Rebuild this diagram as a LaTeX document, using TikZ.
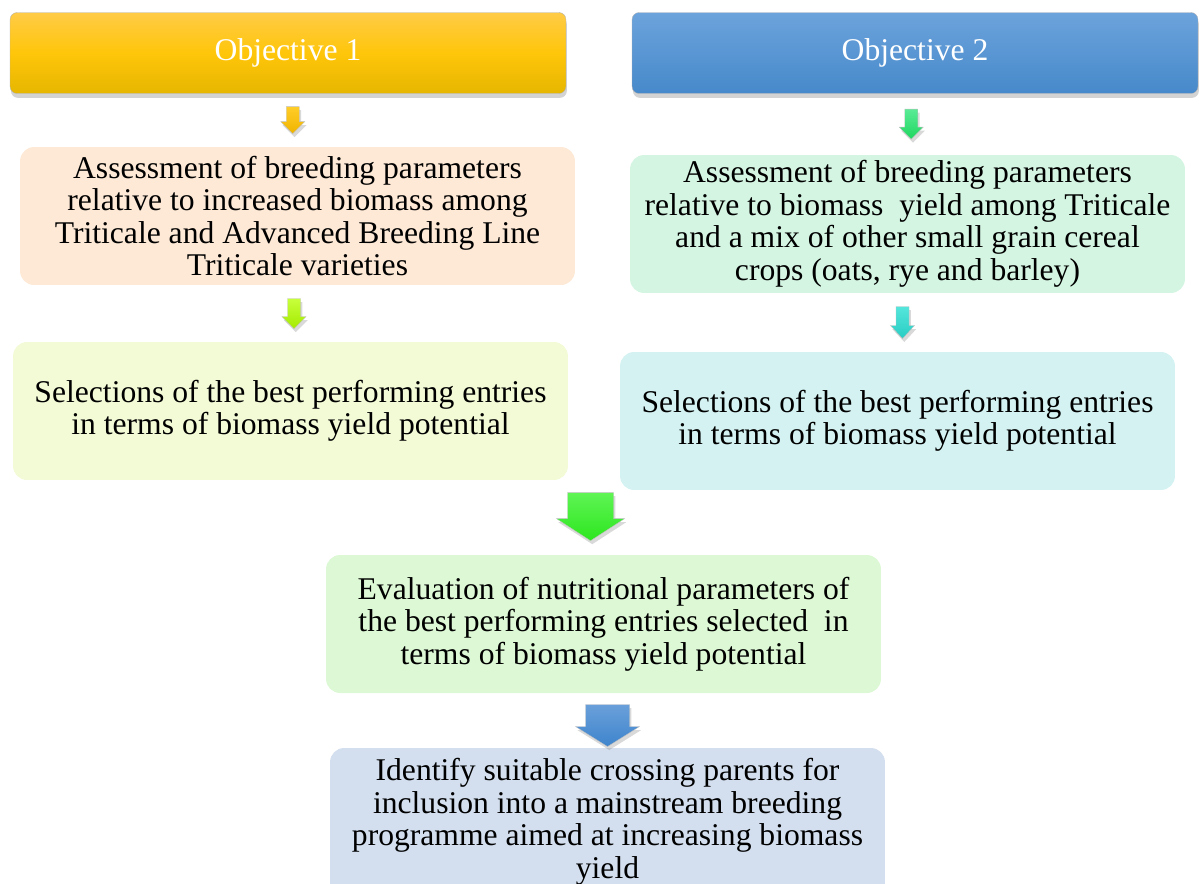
\documentclass[tikz,border=0pt]{standalone}
\usepackage{fontspec}
\setmainfont{Liberation Serif}
\usepackage{tikz}
\usetikzlibrary{shadows,calc}
\definecolor{peach}{RGB}{253,233,214}
\definecolor{mint}{RGB}{213,245,227}
\definecolor{limepale}{RGB}{242,250,214}
\definecolor{cyanpale}{RGB}{212,242,242}
\definecolor{greenpale}{RGB}{221,248,213}
\definecolor{bluepale}{RGB}{211,223,238}
\tikzset{objbox/.style={rounded corners=4pt,draw=black!30,very thin,minimum height=1.62cm,font=\fontsize{18}{18.5}\selectfont,text=white,
drop shadow={opacity=.35,shadow xshift=.5pt,shadow yshift=-2.5pt}},
stepbox/.style={rounded corners=8pt,minimum width=11.1cm,minimum height=2.76cm,align=center,font=\fontsize{18}{18.5}\selectfont,inner sep=2pt},
down/.style={draw=black!25,very thin,drop shadow={opacity=.3,shadow xshift=1pt,shadow yshift=-2pt}}}
% block arrow pointing down: centre, half width, half shaft, half length, head length, style
\newcommand{\blockarrow}[6]{%
\begin{scope}[shift={(#1)}]
\path[down,#6] (-#3,-#4) -- (#3,-#4) -- (#3,#4-#5) -- (#2,#4-#5) -- (0,#4) -- (-#2,#4-#5) -- (-#3,#4-#5) -- cycle;
\end{scope}}

\begin{document}
\begin{tikzpicture}[x=0.02cm,y=-0.02cm]
\useasboundingbox (0,0) rectangle (1199,883);
% objectives
\node[objbox,minimum width=11.12cm,top color={rgb,255:red,255;green,203;blue,70},bottom color={rgb,255:red,230;green,182;blue,0},middle color={rgb,255:red,255;green,198;blue,10}] (o1) at (288,53) {Objective 1};
\node[objbox,minimum width=11.32cm,top color={rgb,255:red,108;green,163;blue,220},bottom color={rgb,255:red,70;green,137;blue,202}] (o2) at (915,53) {Objective 2};
% steps of objective 1
\node[stepbox,fill=peach] (a1) at (297.5,216) {Assessment of breeding parameters\\relative to increased biomass among\\Triticale and Advanced Breeding Line\\Triticale varieties};
\node[stepbox,fill=limepale] (a2) at (290.5,411) {Selections of the best performing entries\\in terms of biomass yield potential};
% steps of objective 2
\node[stepbox,fill=mint] (b1) at (907.5,224) {Assessment of breeding parameters\\relative to biomass\ \ yield among Triticale\\and a mix of other small grain cereal\\crops (oats, rye and barley)};
\node[stepbox,fill=cyanpale] (b2) at (897.5,421) {Selections of the best performing entries\\in terms of biomass yield potential};
% joint steps
\node[stepbox,fill=greenpale] (c) at (603.5,624) {Evaluation of nutritional parameters of\\the best performing entries selected\ \ in\\terms of biomass yield potential};
\node[stepbox,fill=bluepale,minimum height=2.96cm] (d) at (607.5,822) {Identify suitable crossing parents for\\inclusion into a mainstream breeding\\programme aimed at increasing biomass\\yield};
% arrows
\coordinate (ar1) at ($(o1.south)!.5!(a1.north)$);
\coordinate (ar2) at ($(o2.south)!.5!(b1.north)$);
\coordinate (ar3) at ($(a1.south)!.5!(a2.north)$);
\coordinate (ar4) at ($(b1.south)!.5!(b2.north)$);
\coordinate (ar5) at ($(c.north)+(-13,-38)$);
\coordinate (ar6) at ($(c.south)!.5!(d.north)+(2,5)$);
\blockarrow{ar1}{12}{6.5}{13.5}{12}{top color={rgb,255:red,255;green,205;blue,40},bottom color={rgb,255:red,240;green,180;blue,0}}
\blockarrow{ar2}{12}{6.5}{15}{12}{top color={rgb,255:red,90;green,235;blue,150},bottom color={rgb,255:red,30;green,215;blue,95}}
\blockarrow{ar3}{12}{6.5}{15}{12}{top color={rgb,255:red,200;green,255;blue,60},bottom color={rgb,255:red,165;green,235;blue,0}}
\blockarrow{ar4}{12}{6.5}{16}{13}{top color={rgb,255:red,85;green,230;blue,220},bottom color={rgb,255:red,40;green,205;blue,195}}
\blockarrow{ar5}{34}{23}{24}{22}{top color={rgb,255:red,95;green,245;blue,85},bottom color={rgb,255:red,45;green,230;blue,30}}
\blockarrow{ar6}{32}{22}{21}{20}{top color={rgb,255:red,106;green,160;blue,218},bottom color={rgb,255:red,62;green,132;blue,204}}
\end{tikzpicture}
\end{document}
